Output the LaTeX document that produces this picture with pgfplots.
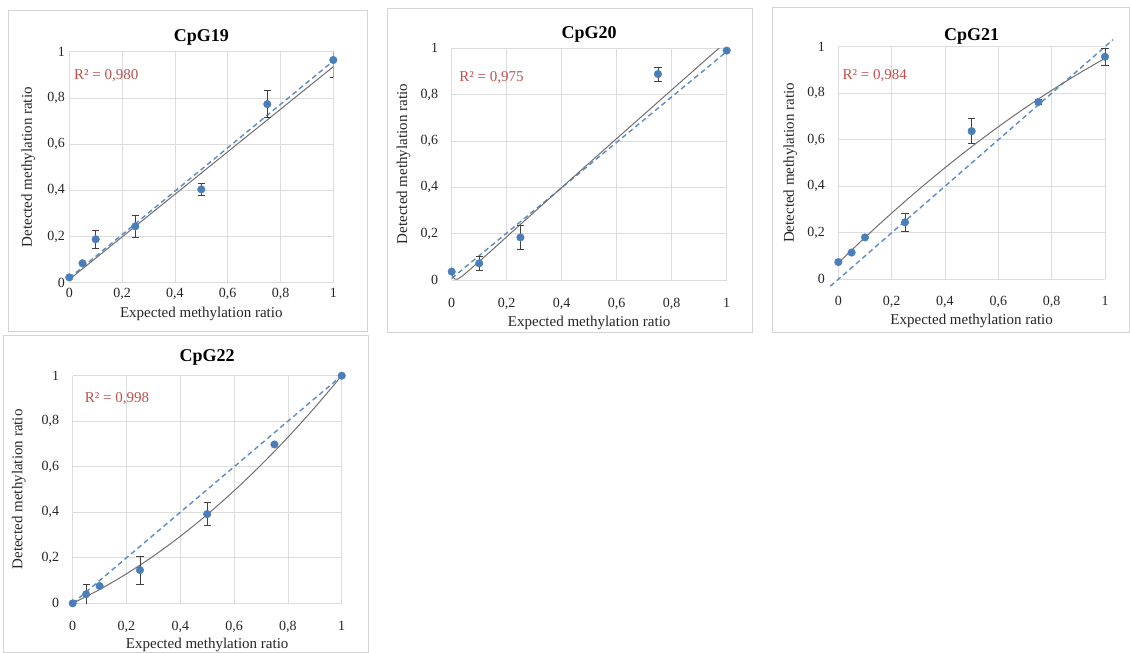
\documentclass[border=0pt]{standalone}
\usepackage{fontspec}
\setmainfont{Liberation Serif}
\usepackage{pgfplots}
\pgfplotsset{compat=1.18}
\definecolor{mblue}{HTML}{4A7EBB}
\definecolor{dblue}{HTML}{5B8BC8}
\definecolor{errc}{HTML}{404040}
\definecolor{trendc}{HTML}{707070}
\definecolor{gridc}{HTML}{DCDCDC}
\definecolor{framec}{HTML}{D4D4D4}
\definecolor{rred}{HTML}{C0504D}
\tikzset{rlab/.style={anchor=west, text=rred, font=\fontsize{15}{17}\selectfont}}
\pgfplotsset{
  cpg/.style={
    scale only axis,
    xmin=0, xmax=1, ymin=0, ymax=1,
    xtick={0,0.2,0.4,0.6,0.8,1}, ytick={0,0.2,0.4,0.6,0.8,1},
    grid=major, major grid style={gridc, line width=0.6pt},
    axis line style={draw=none},
    tick style={draw=none},
    /pgf/number format/assume math mode=true,
    /pgf/number format/use comma,
    ticklabel style={font=\fontsize{14}{16}\selectfont, text=black!85},
    label style={font=\fontsize{15}{17}\selectfont, text=black!85},
    title style={font=\fontsize{18}{20}\selectfont\bfseries},
    xlabel={Expected methylation ratio},
    ylabel={Detected methylation ratio},
  },
  errb/.style={only marks, mark=none,
    error bars/.cd, y dir=both, y explicit,
    error bar style={draw=errc, line width=0.8pt},
    error mark options={rotate=90, mark size=3.6pt, draw=errc, line width=0.8pt}},
  pts/.style={only marks, mark=*, mark size=3.8pt, mark options={fill=mblue, draw=mblue}},
  trend/.style={trendc, line width=1pt, mark=none, smooth},
  ideal/.style={dblue, line width=1.4pt, mark=none, dash pattern=on 5pt off 3.5pt},
}
\begin{document}
\begin{tikzpicture}[x=1pt,y=1pt]
\path[use as bounding box] (0,0) rectangle (1130,653);
\draw[framec, line width=1pt] (8,321) rectangle (367,642);
\draw[framec, line width=1pt] (387,320) rectangle (752,644);
\draw[framec, line width=1pt] (772,320) rectangle (1129,645);
\draw[framec, line width=1pt] (3,0.5) rectangle (368,317);

% CpG19
\begin{axis}[cpg, at={(69.3pt,370.3pt)}, anchor=south west, width=264pt, height=231pt,
  title={CpG19}, title style={at={(0.5,1)}, anchor=center, yshift=8pt},
  xlabel style={at={(axis description cs:0.5,0)}, anchor=center, yshift=-31pt},
  ylabel style={at={(axis description cs:-0.155,0.5)}, anchor=center},
  xticklabel style={yshift=-2pt},
  yticklabel style={xshift=-1pt},
]
\addplot[ideal] coordinates {(0,0.02) (1,0.96)};
\addplot[trend] coordinates {(0,0.014) (1,0.935)};
\addplot[errb] coordinates {
 (0.1,0.188) +- (0,0.04)
 (0.25,0.244) +- (0,0.046)
 (0.5,0.404) +- (0,0.025)
 (0.75,0.773) +- (0,0.058)
 (1,0.964) +- (0,0.075)};
\addplot[pts] coordinates {(0,0.023) (0.05,0.084) (0.1,0.188) (0.25,0.244) (0.5,0.404) (0.75,0.773) (1,0.964)};
\node[rlab] at (axis description cs:0.005,0.896) {R² = 0,980};
\end{axis}

% CpG20
\begin{axis}[cpg, at={(451.7pt,373pt)}, anchor=south west, width=275pt, height=231.7pt,
  title={CpG20}, title style={at={(0.5,1)}, anchor=center, yshift=8pt},
  xlabel style={at={(axis description cs:0.5,0)}, anchor=center, yshift=-43pt},
  ylabel style={at={(axis description cs:-0.175,0.5)}, anchor=center},
  xticklabel style={yshift=-15pt},
  yticklabel style={xshift=-10pt},
]
\addplot[ideal] coordinates {(0,0.007) (1,0.986)};
\addplot[trend] coordinates {(0,0.03) (0.02,0.003) (0.1,0.08) (0.25,0.24) (0.5,0.505) (0.75,0.768) (1,1.03)};
\addplot[errb] coordinates {
 (0.1,0.072) +- (0,0.03)
 (0.25,0.184) +- (0,0.05)
 (0.75,0.889) +- (0,0.03)};
\addplot[pts] coordinates {(0,0.036) (0.1,0.072) (0.25,0.184) (0.75,0.889) (1,0.99)};
\node[rlab] at (axis description cs:0.015,0.875) {R² = 0,975};
\end{axis}

% CpG21
\begin{axis}[cpg, clip=false, at={(838.3pt,373.7pt)}, anchor=south west, width=266.7pt, height=232.6pt,
  title={CpG21}, title style={at={(0.5,1)}, anchor=center, yshift=4pt},
  xlabel style={at={(axis description cs:0.5,0)}, anchor=center, yshift=-42pt},
  ylabel style={at={(axis description cs:-0.18,0.5)}, anchor=center},
  xticklabel style={yshift=-13pt},
  yticklabel style={xshift=-10pt},
]
\addplot[ideal] coordinates {(-0.03,-0.03) (1.03,1.03)};
\addplot[trend] coordinates {(0,0.07) (0.1,0.1796) (0.2,0.2844) (0.3,0.3844) (0.4,0.4796) (0.5,0.57) (0.6,0.6556) (0.7,0.7364) (0.8,0.8124) (0.9,0.8836) (1,0.95)};
\addplot[errb] coordinates {
 (0.25,0.245) +- (0,0.04)
 (0.5,0.637) +- (0,0.053)
 (0.75,0.762) +- (0,0.012)
 (1,0.957) +- (0,0.036)};
\addplot[pts] coordinates {(0,0.074) (0.05,0.115) (0.1,0.18) (0.25,0.245) (0.5,0.637) (0.75,0.762) (1,0.957)};
\node[rlab] at (axis description cs:0.003,0.876) {R² = 0,984};
\end{axis}

% CpG22
\begin{axis}[cpg, at={(72.7pt,49.7pt)}, anchor=south west, width=269pt, height=227.6pt,
  title={CpG22}, title style={at={(0.5,1)}, anchor=center, yshift=12pt},
  xlabel style={at={(axis description cs:0.5,0)}, anchor=center, yshift=-42pt},
  ylabel style={at={(axis description cs:-0.2,0.5)}, anchor=center},
  xticklabel style={yshift=-14pt},
  yticklabel style={xshift=-10pt},
]
\addplot[ideal] coordinates {(0,0) (1,1)};
\addplot[trend] coordinates {(0,0) (0.1,0.0604) (0.2,0.1296) (0.3,0.2076) (0.4,0.2944) (0.5,0.39) (0.6,0.4944) (0.7,0.6076) (0.8,0.7296) (0.9,0.8604) (1,1)};
\addplot[errb] coordinates {
 (0.05,0.04) +- (0,0.045)
 (0.25,0.146) +- (0,0.062)
 (0.5,0.392) +- (0,0.051)};
\addplot[pts] coordinates {(0,0) (0.05,0.04) (0.1,0.076) (0.25,0.146) (0.5,0.392) (0.75,0.698) (1,1)};
\node[rlab] at (axis description cs:0.032,0.9) {R² = 0,998};
\end{axis}
\end{tikzpicture}
\end{document}
